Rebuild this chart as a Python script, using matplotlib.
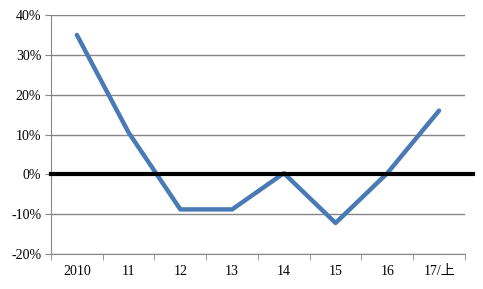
import matplotlib.pyplot as plt
from matplotlib.ticker import FuncFormatter, FixedLocator

years = ['2010', '11', '12', '13', '14', '15', '16', '17/上']
growth = [35, 10.5, -8.8, -8.8, 0.3, -12.2, 0.3, 16]

plt.rcParams['font.family'] = ['Liberation Serif', 'Noto Sans CJK JP']

fig = plt.figure(figsize=(4.83, 2.89), dpi=100)
ax = fig.add_axes([0.1056, 0.121, 0.857, 0.827])

x = list(range(len(years)))
ax.plot(x, growth, color='#4a7ab5', lw=3.2, solid_capstyle='round', zorder=3)
ax.axhline(0, xmin=0, xmax=1.02, color='black', lw=3, clip_on=False, zorder=4)

ax.set_xlim(-0.5, len(years) - 0.5)
ax.set_ylim(-20, 40)
ax.set_yticks(range(-20, 41, 10))
ax.yaxis.set_major_formatter(FuncFormatter(lambda v, p: f'{int(v)}%'))
ax.grid(axis='y', color='#868686', lw=1)
ax.set_axisbelow(True)

ax.set_xticks(x)
ax.set_xticklabels(years)
ax.xaxis.set_minor_locator(FixedLocator([i - 0.5 for i in range(len(years) + 1)]))
ax.tick_params(axis='x', which='major', length=0, pad=8, labelsize=10)
ax.tick_params(axis='x', which='minor', length=4, color='#868686')
ax.tick_params(axis='y', length=4, color='#868686', labelsize=10, pad=3)

for s in ['top', 'right']:
    ax.spines[s].set_visible(False)
for s in ['left', 'bottom']:
    ax.spines[s].set_color('#868686')

fig.savefig('out.png', dpi=100)
